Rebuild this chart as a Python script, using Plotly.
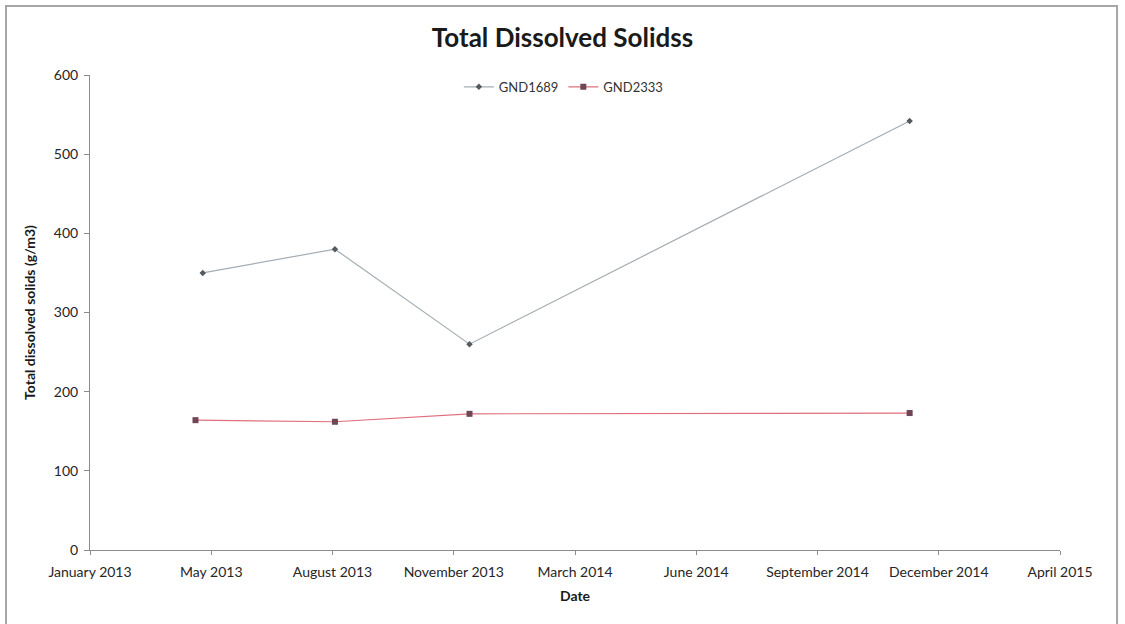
import pandas as pd
import plotly.graph_objects as go

# Sampling dates and total dissolved solids (g/m3) for each bore
gnd1689_dates = ["2013-04-29", "2013-08-16", "2013-12-05", "2014-12-03"]
gnd1689_tds = [350, 380, 260, 542]

gnd2333_dates = ["2013-04-23", "2013-08-16", "2013-12-05", "2014-12-03"]
gnd2333_tds = [164, 162, 172, 173]

# Date axis: starts 26 Jan 2013, major unit of 100 days
axis_start = pd.Timestamp("2013-01-26")
axis_ticks = pd.date_range(axis_start, periods=9, freq="100D")

FONT = "Lato"
TEXT = "#262626"
AXIS = "#8c8c8c"

fig = go.Figure()
fig.add_trace(go.Scatter(
    x=pd.to_datetime(gnd1689_dates), y=gnd1689_tds, name="GND1689",
    mode="lines+markers",
    line=dict(color="#a3adb4", width=1.2),
    marker=dict(symbol="diamond", size=5, color="#555a60"),
))
fig.add_trace(go.Scatter(
    x=pd.to_datetime(gnd2333_dates), y=gnd2333_tds, name="GND2333",
    mode="lines+markers",
    line=dict(color="#e0707e", width=1.2),
    marker=dict(symbol="square", size=6, color="#6e4656"),
))

fig.update_layout(
    width=1125, height=624,
    margin=dict(l=90, r=65, t=75, b=74),
    paper_bgcolor="white", plot_bgcolor="white",
    font=dict(family=FONT, color=TEXT, size=14),
    title=dict(text="<b>Total Dissolved Solidss</b>", x=0.5, xanchor="center",
               y=0.94, yanchor="middle",
               font=dict(family=FONT, size=26, color="#1a1a1a")),
    showlegend=True,
    legend=dict(orientation="h", x=0.488, xanchor="center", y=0.975, yanchor="middle",
                font=dict(size=13, color="#333333"), bgcolor="rgba(0,0,0,0)",
                itemwidth=30, tracegroupgap=0),
    xaxis=dict(
        type="date",
        range=[axis_ticks[0], axis_ticks[-1]],
        tickvals=list(axis_ticks), tickformat="%B %Y",
        showgrid=False, zeroline=False,
        showline=True, linecolor=AXIS, linewidth=1,
        ticks="outside", ticklen=4, tickcolor=AXIS,
        ticklabelstandoff=5,
        tickfont=dict(size=14, color=TEXT),
        title=dict(text="<b>Date</b>", font=dict(size=14, color="#1a1a1a"), standoff=12),
    ),
    yaxis=dict(
        range=[0, 600], dtick=100,
        showgrid=False, zeroline=False,
        showline=True, linecolor=AXIS, linewidth=1,
        ticks="outside", ticklen=5, tickcolor=AXIS,
        ticklabelstandoff=3,
        tickfont=dict(size=14, color=TEXT),
        title=dict(text="<b>Total dissolved solids (g/m3)</b>",
                   font=dict(size=14, color="#1a1a1a"), standoff=14),
    ),
)

# Chart-area frame
fig.add_shape(type="rect", xref="paper", yref="paper",
              x0=-0.0866, x1=1.0588, y0=-0.2, y1=1.1453,
              line=dict(color="#a6a6a6", width=2), fillcolor="rgba(0,0,0,0)",
              layer="below")

fig.write_html("out.html")
